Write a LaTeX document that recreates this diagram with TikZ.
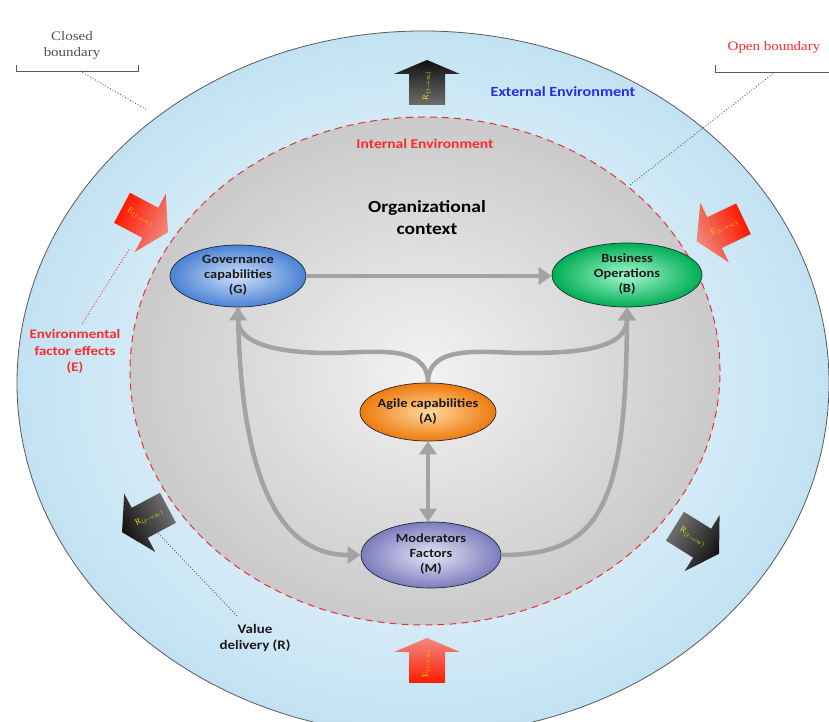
\documentclass[tikz,border=0pt]{standalone}
\usepackage{fontspec}
\setmainfont{Liberation Serif}
\newfontfamily\cfont{Carlito}
\usetikzlibrary{arrows.meta,shapes.geometric}
\newcommand\wtxt[1]{\scalebox{1.15}[1]{\begin{tabular}{@{}c@{}}#1\end{tabular}}}
\definecolor{connc}{HTML}{A3A3A3}
\definecolor{outerblue}{HTML}{C2E2F3}
\definecolor{outerline}{HTML}{5A5A5A}
\definecolor{innergray}{HTML}{CACACA}
\definecolor{dashred}{HTML}{E8303A}
\definecolor{nodeline}{HTML}{1E2A3A}
\definecolor{ntextc}{HTML}{1A1A1A}
\definecolor{gin}{HTML}{CFE0FA}\definecolor{gout}{HTML}{4A82D4}
\definecolor{bin}{HTML}{A8F7CF}\definecolor{bout}{HTML}{00AE55}
\definecolor{ain}{HTML}{FFD9A0}\definecolor{aout}{HTML}{EE7A0C}
\definecolor{min}{HTML}{E6E6F7}\definecolor{mout}{HTML}{7C7CBC}
\definecolor{redtail}{HTML}{FF1A00}\definecolor{redhead}{HTML}{F08A80}
\definecolor{darktail}{HTML}{6E6E6E}\definecolor{darkhead}{HTML}{101010}
\definecolor{ylab}{HTML}{EDE600}\definecolor{olab}{HTML}{F8C400}
\definecolor{labred}{HTML}{FF2A2A}\definecolor{labblue}{HTML}{2B2BE6}
\definecolor{serifgray}{HTML}{505050}
\tikzset{
 conn/.style={draw=connc, line width=4.5pt, -{Triangle[width=17pt,length=13pt]}},
 dconn/.style={draw=connc, line width=4.5pt, {Triangle[width=17pt,length=13pt]}-{Triangle[width=17pt,length=13pt]}},
 ell/.style={ellipse, draw=nodeline, line width=0.7pt, inner sep=0pt},
 ntext/.style={font=\cfont\bfseries\fontsize{12.5}{15}\selectfont, text=ntextc, inner sep=0pt},
 lab/.style={font=\cfont\bfseries\fontsize{13}{16.5}\selectfont, inner sep=0pt},
 seriflab/.style={font=\fontsize{13}{16}\selectfont, inner sep=0pt},
 arrlab/.style={font=\fontsize{8.5}{8.5}\selectfont, inner sep=0pt},
 dots/.style={dotted, line width=0.9pt}
}
\begin{document}
\begin{tikzpicture}[x=1pt,y=1pt]
\useasboundingbox (0,0) rectangle (829,722);
\clip (0,0) rectangle (829,722);
\fill[white] (0,0) rectangle (829,722);
% outer environment
\shade[inner color=white, outer color=outerblue] (423,339) ellipse [x radius=406, y radius=352];
\draw[outerline, line width=0.8pt] (423,339) ellipse [x radius=406, y radius=352];
% internal environment
\shade[inner color=white!95!black, outer color=innergray] (425,351) ellipse [x radius=295, y radius=254];
\draw[dashred, line width=1pt, dash pattern=on 7pt off 5pt] (425,351) ellipse [x radius=295, y radius=254];

% titles
\node[lab, text=labblue, font=\cfont\bfseries\fontsize{14}{16}\selectfont] (ext) at (563,629) {\wtxt{External Environment}};
\node[lab, text=labred, font=\cfont\bfseries\fontsize{13.5}{16}\selectfont] (int) at (425,577) {\wtxt{Internal Environment}};
\node[lab, text=black, font=\cfont\bfseries\fontsize{17}{22}\selectfont] (org) at (427,503) {\wtxt{Organizational\\context}};

% boundary labels
\node[seriflab, text=serifgray] (closed) at (72,677) {\wtxt{Closed\\boundary}};
\draw[outerline, line width=0.8pt] (16,657) -- (16,651) -- (138,651) -- (138,657);
\coordinate (cb1) at (80,651);
\coordinate (cb2) at (147,612);
\draw[dots, outerline] (cb1) -- (cb2);

\node[seriflab, text=labred] (open) at (774,675) {\wtxt{Open boundary}};
\draw[outerline, line width=0.8pt] (715,657) -- (715,650) -- (829,650);
\coordinate (ob1) at (775,650);
\coordinate (ob2) at (630,537);
\draw[dots, outerline] (ob1) -- (ob2);

% side labels
\node[lab, text=labred] (elab) at (75,370) {\wtxt{Environmental\\factor effects\\(E)}};
\coordinate (el1) at (82,398);
\coordinate (el2) at (130,474);
\draw[dots, labred] (el1) -- (el2);

\node[lab, text=ntextc] (vlab) at (255,84) {\wtxt{Value\\delivery (R)}};
\coordinate (vl1) at (237,106);
\coordinate (vl2) at (158,189);
\draw[dots, outerline] (vl1) -- (vl2);

% core nodes
\node[ell, minimum width=136, minimum height=62, inner color=gin, outer color=gout] (G) at (238,446) {};
\node[ntext] (Gt) at (G.center) {\wtxt{Governance\\capabilities\\(G)}};
\node[ell, minimum width=150, minimum height=64, inner color=bin, outer color=bout] (B) at (627,447) {};
\node[ntext] (Bt) at (B.center) {\wtxt{Business\\Operations\\(B)}};
\node[ell, minimum width=136, minimum height=58, inner color=ain, outer color=aout] (A) at (428,310) {};
\node[ntext] (At) at (A.center) {\wtxt{Agile capabilities\\(A)}};
\node[ell, minimum width=140, minimum height=66, inner color=min, outer color=mout] (M) at (431,167) {};
\node[ntext] (Mt) at (M.center) {\wtxt{Moderators\\Factors\\(M)}};

% connectors
\coordinate (ljoin) at (330,369);
\coordinate (rjoin) at (525,369);
\draw[conn] (G.east) -- (G.east -| B.west);
\draw[conn] (A.north) to[out=90,in=0] (ljoin) to[out=180,in=-90] (G.south);
\draw[conn] (A.north) to[out=90,in=180] (rjoin) to[out=0,in=-90] (B.south);
\draw[dconn] (A.south) -- (A.south |- M.north);
\draw[conn] (G.south) .. controls (240,230) and (285,167) .. (M.west);
\draw[conn] (M.east) .. controls (600,167) and (626,215) .. (B.south);

% block arrows
\begin{scope}[transform canvas={shift={(427,639.5)},rotate=90}]
 \shade[left color=darktail, right color=darkhead] (-22.5,-18) -- (8.5,-18) -- (8.5,-33) -- (22.5,0) -- (8.5,33) -- (8.5,18) -- (-22.5,18) -- cycle;
 \node[arrlab, text=ylab] (rtop) at (-3,0) {R$_{(t\rightarrow\infty)}$};
\end{scope}
\begin{scope}[transform canvas={shift={(427,61.5)},rotate=90}]
 \shade[left color=redtail, right color=redhead] (-22.5,-18) -- (8.5,-18) -- (8.5,-33) -- (22.5,0) -- (8.5,33) -- (8.5,18) -- (-22.5,18) -- cycle;
 \node[arrlab, text=olab] (ebot) at (-3,0) {E$_{(t\rightarrow\infty)}$};
\end{scope}
\begin{scope}[transform canvas={shift={(145,502)},rotate=-28}]
 \shade[left color=redtail, right color=redhead] (-26,-17) -- (6,-17) -- (6,-33) -- (26,0) -- (6,33) -- (6,17) -- (-26,17) -- cycle;
 \node[arrlab, text=olab] (etl) at (-5,0) {E$_{(t\rightarrow\infty)}$};
\end{scope}
\begin{scope}[transform canvas={shift={(720,492)},rotate=205.5}]
 \shade[left color=redtail, right color=redhead] (-26,-17) -- (6,-17) -- (6,-33) -- (26,0) -- (6,33) -- (6,17) -- (-26,17) -- cycle;
 \node[arrlab, text=olab, rotate=180] (etr) at (-5,0) {E$_{(t\rightarrow\infty)}$};
\end{scope}
\begin{scope}[transform canvas={shift={(145,202)},rotate=208}]
 \shade[left color=darktail, right color=darkhead] (-26,-17) -- (6,-17) -- (6,-33) -- (26,0) -- (6,33) -- (6,17) -- (-26,17) -- cycle;
 \node[arrlab, text=ylab, rotate=180] (rbl) at (-5,0) {R$_{(t\rightarrow\infty)}$};
\end{scope}
\begin{scope}[transform canvas={shift={(697,182)},rotate=-32}]
 \shade[left color=darktail, right color=darkhead] (-26,-17) -- (6,-17) -- (6,-33) -- (26,0) -- (6,33) -- (6,17) -- (-26,17) -- cycle;
 \node[arrlab, text=ylab] (rbr) at (-5,0) {R$_{(t\rightarrow\infty)}$};
\end{scope}
\end{tikzpicture}
\end{document}
